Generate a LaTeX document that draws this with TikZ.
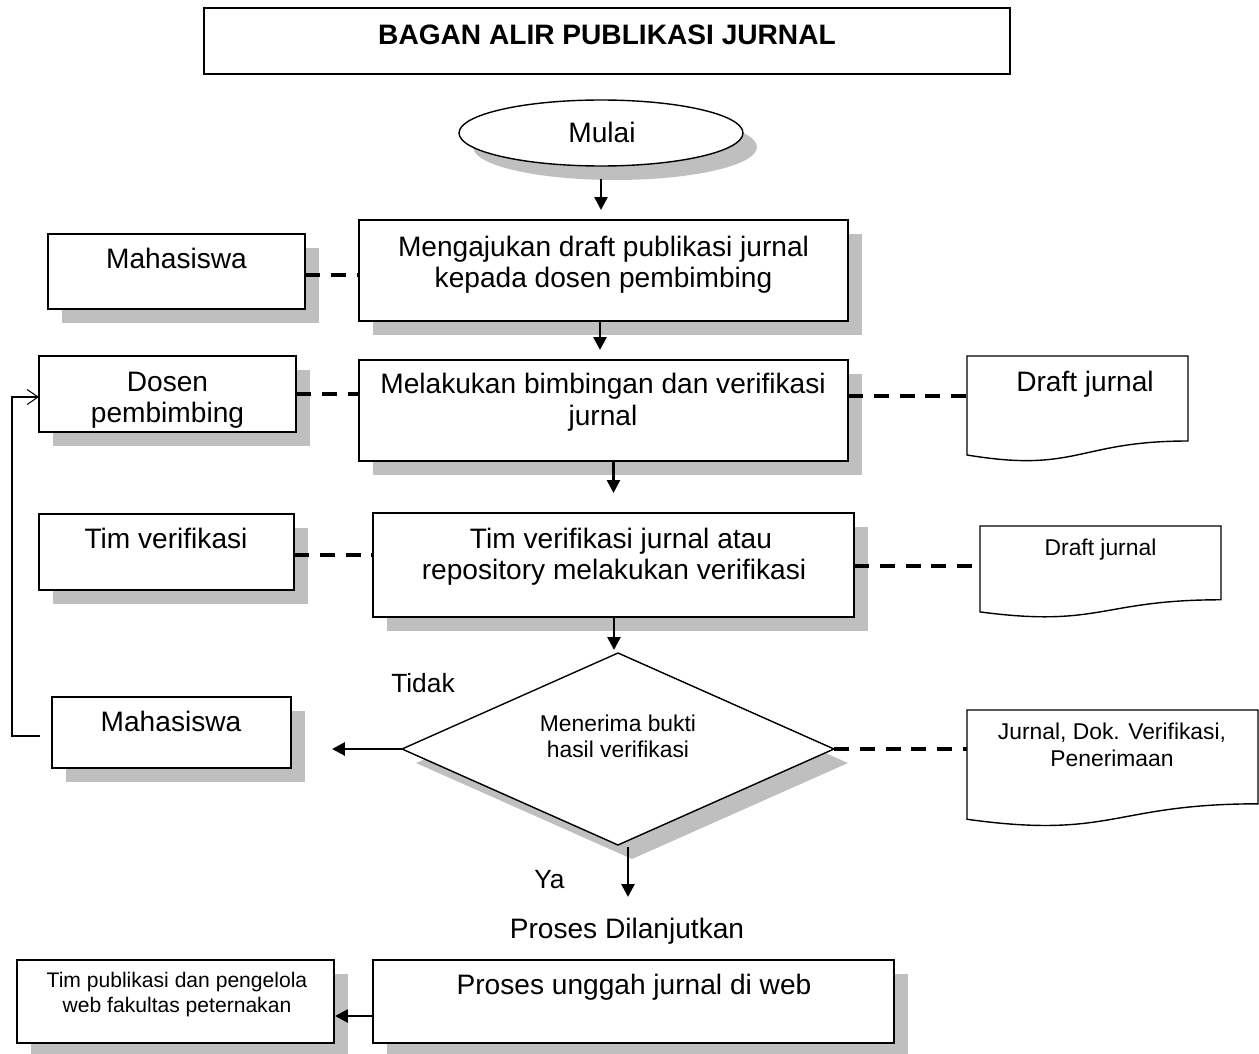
\documentclass[tikz,border=0pt]{standalone}
\usepackage{fontspec}
\setmainfont{Liberation Sans}
\usetikzlibrary{shapes.geometric,shadows,arrows.meta,calc}
\newcommand{\docshape}[1]{%
  \draw[line width=0.8pt] (#1.north west) -- (#1.north east)
    -- ($(#1.north east)!0.802!(#1.south east)$)
    .. controls ($(#1.north)!0.802!(#1.south)$) and ($(#1.north)!1.107!(#1.south)$) ..
    ($(#1.north west)!0.934!(#1.south west)$) -- cycle;}
\begin{document}
\begin{tikzpicture}[x=0.02cm,y=-0.02cm,
  shp/.style={draw, line width=0.8pt, fill=white, inner sep=0, outer sep=0},
  shd/.style={drop shadow={shadow xshift=0.28cm,shadow yshift=-0.28cm,fill=black!25,opacity=1}},
  docnode/.style={inner sep=0, outer sep=0, rectangle},
  arr/.style={line width=1.5pt, -{Triangle[length=0.26cm,width=0.26cm]}},
  dsh/.style={line width=2pt, dash pattern=on 8.5pt off 6.2pt},
  fb/.style={line width=0.6pt, -{Straight Barb[length=0.22cm,width=0.3cm]}},
  t/.style={font=\fontsize{16}{19}\selectfont, inner sep=0, anchor=base},
  tm/.style={font=\fontsize{15}{18}\selectfont, inner sep=0, anchor=base},
  ts/.style={font=\fontsize{13}{15}\selectfont, inner sep=0, anchor=base},
  tss/.style={font=\fontsize{12}{14}\selectfont, inner sep=0, anchor=base}]
\useasboundingbox[fill=white] (0,0) rectangle (1259,1054);

% title
\node[shp, minimum width=16.12cm, minimum height=1.32cm] (title) at (607,41) {};
\node[t, font=\fontsize{16}{19}\selectfont\bfseries] (titletxt) at (607,45) {BAGAN ALIR PUBLIKASI JURNAL};

% start
\node[shp, shd, ellipse, minimum width=5.68cm, minimum height=1.32cm] (mulai) at (601,133) {};
\node[t] (mulaitxt) at (602,143) {Mulai};

% process boxes
\node[shp, shd, minimum width=9.78cm, minimum height=2.02cm] (b1) at (603.5,270.5) {};
\node[t] (b1a) at (603.5,257) {Mengajukan draft publikasi jurnal};
\node[t] (b1b) at (603.5,288) {kepada dosen pembimbing};

\node[shp, shd, minimum width=9.78cm, minimum height=2.02cm] (b2) at (603.5,410.5) {};
\node[t] (b2a) at (603,394) {Melakukan bimbingan dan verifikasi};
\node[t] (b2b) at (603,426) {jurnal};

\node[shp, shd, minimum width=9.62cm, minimum height=2.08cm] (b3) at (613.5,565) {};
\node[t] (b3a) at (621,548) {Tim verifikasi jurnal atau};
\node[t] (b3b) at (614,580) {repository melakukan verifikasi};

\node[shp, shd, diamond, minimum width=8.64cm, minimum height=3.84cm, aspect=2.25] (dec) at (618,749) {};
\node[ts] (deca) at (618,731) {Menerima bukti};
\node[ts] (decb) at (618,757) {hasil verifikasi};

\node[shp, shd, minimum width=10.42cm, minimum height=1.66cm] (b4) at (633.5,1001.5) {};
\node[t] (b4a) at (634,994) {Proses unggah jurnal di web};

% actor boxes
\node[shp, shd, minimum width=5.14cm, minimum height=1.5cm] (mhs1) at (176.5,271.5) {};
\node[t] (mhs1t) at (176.5,269) {Mahasiswa};

\node[shp, shd, minimum width=5.14cm, minimum height=1.52cm] (dos) at (167.5,394) {};
\node[t] (dosa) at (167.5,392) {Dosen};
\node[t] (dosb) at (167.5,423) {pembimbing};

\node[shp, shd, minimum width=5.1cm, minimum height=1.52cm] (tv) at (166.5,552) {};
\node[t] (tvt) at (166,548) {Tim verifikasi};

\node[shp, shd, minimum width=4.78cm, minimum height=1.42cm] (mhs2) at (171.5,732.5) {};
\node[t] (mhs2t) at (171,731) {Mahasiswa};

\node[shp, shd, minimum width=6.34cm, minimum height=1.66cm] (tp) at (175.5,1001.5) {};
\node[tss] (tpa) at (177,987) {Tim publikasi dan pengelola};
\node[tss] (tpb) at (177,1012) {web fakultas peternakan};

% documents
\node[docnode, minimum width=4.42cm, minimum height=2.12cm] (d1) at (1077.5,409) {};
\docshape{d1}
\node[t] (d1t) at (1085,392) {Draft jurnal};

\node[docnode, minimum width=4.82cm, minimum height=1.84cm] (d2) at (1100.5,572) {};
\docshape{d2}
\node[ts] (d2t) at (1100.5,556) {Draft jurnal};

\node[docnode, minimum width=5.82cm, minimum height=2.34cm] (d3) at (1112.5,768.5) {};
\docshape{d3}
\node[ts] (d3a) at (1112,739) {Jurnal, Dok. Verifikasi,};
\node[ts] (d3b) at (1112,766) {Penerimaan};

% labels
\node[tm] (tidak) at (423,692) {Tidak};
\node[tm] (ya) at (549.5,888) {Ya};
\node[t] (lanjut) at (627,938) {Proses Dilanjutkan};
\coordinate (lanjuttop) at (628,897);

% main flow arrows
\draw[arr, shorten <=0.26cm, shorten >=0.2cm] (mulai.south) -- (mulai.south |- b1.north);
\draw[arr, shorten >=0.2cm] (b1.south -| 600,0) -- (b2.north -| 600,0);
\draw[arr, shorten >=0.4cm] (b3.north |- b2.south) -- (b3.north);
\draw[arr, shorten >=0.06cm] (b3.south -| 614,0) -- (dec.north -| 614,0);
\draw[arr] (dec.south -| lanjuttop) ++(0,2) -- (lanjuttop);
\draw[arr, shorten >=0.82cm] (dec.west |- 0,749) -- (mhs2.east |- 0,749);
\draw[arr, shorten >=0.02cm] (b4.west |- 0,1016) -- (tp.east |- 0,1016);

% dashed links
\draw[dsh] (mhs1.east |- 0,275) -- (b1.west |- 0,275);
\draw[dsh] (dos.east |- 0,394) -- (b2.west |- 0,394);
\draw[dsh] (b2.east |- 0,396) -- (d1.west |- 0,396);
\draw[dsh] (tv.east |- 0,555) -- (b3.west |- 0,555);
\draw[dsh] (b3.east |- 0,566) -- (d2.west |- 0,566);
\draw[dsh] (dec.east) -- (d3.west |- dec.east);

% feedback loop
\draw[fb] ([xshift=-0.24cm]mhs2.west |- 0,736) -- (12,736) -- (12,397) -- (dos.west |- 0,397);
\end{tikzpicture}
\end{document}
